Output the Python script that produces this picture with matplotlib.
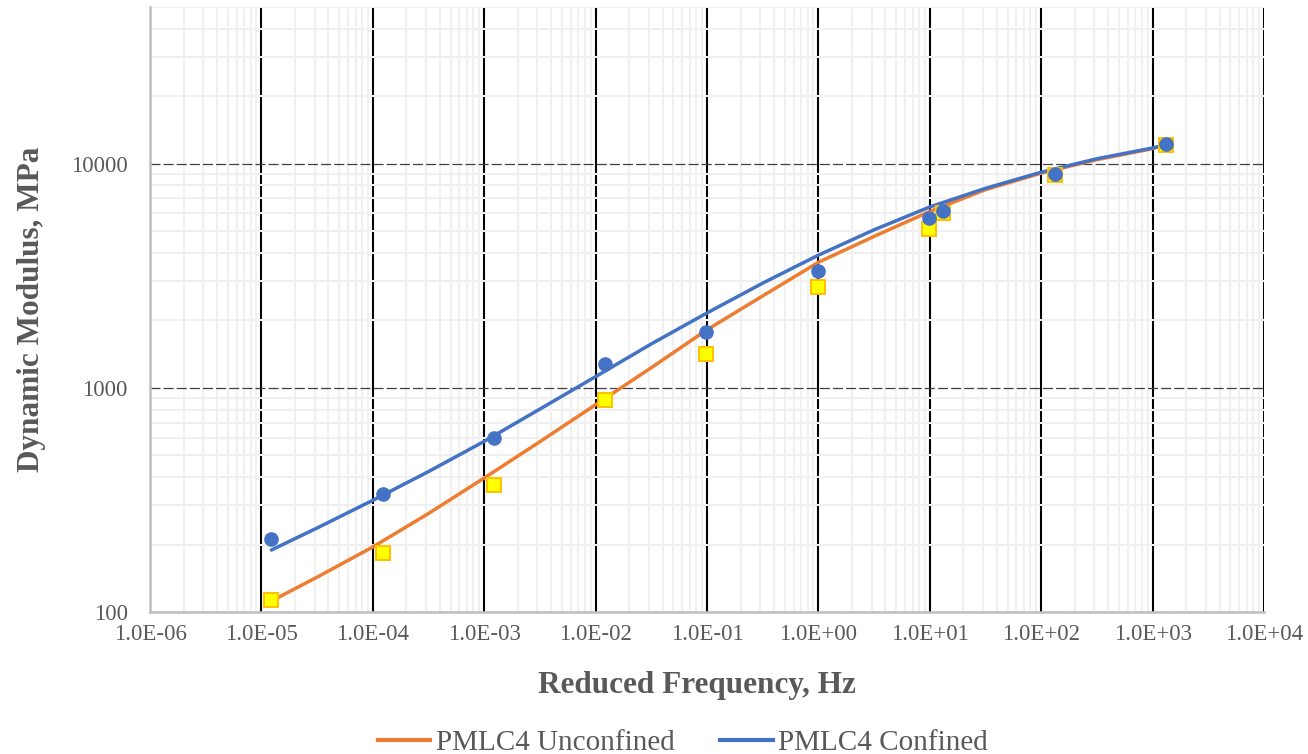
import matplotlib
matplotlib.use("Agg")
import matplotlib.pyplot as plt
from matplotlib.lines import Line2D
from matplotlib.ticker import LogLocator, FixedLocator, NullFormatter

# measured points (reduced frequency, Hz / dynamic modulus, MPa)
freq = [1.22e-5, 1.24e-4, 1.22e-3, 1.22e-2, 0.098, 1.0, 9.8, 13.1, 133, 1318]
e_unconf = [113, 183, 369, 883, 1419, 2825, 5130, 6040, 8930, 12170]
e_conf = [212, 336, 599, 1280, 1779, 3327, 5740, 6170, 8980, 12200]

# fitted master curves, every half decade
fit_freq = [1.23e-5, 3.16e-5, 1e-4, 3.16e-4, 1e-3, 3.16e-3, 1e-2, 3.16e-2,
            1e-1, 3.16e-1, 1.0, 3.16, 10, 31.6, 100, 316, 1000, 1318]
fit_unconf = [112, 143, 195, 275, 396, 575, 841, 1230, 1816, 2570, 3631,
              4738, 6121, 7656, 9078, 10420, 11670, 12160]
fit_conf = [189, 237, 315, 423, 577, 804, 1122, 1570, 2158, 2931, 3908,
            5070, 6412, 7762, 9162, 10520, 11750, 12160]

x_ticks = [10.0 ** p for p in range(-6, 5)]
y_ticks = [100, 1000, 10000]

GRAY_TXT = "#595959"
SERIF = ["Liberation Serif", "DejaVu Serif"]
plt.rcParams["font.family"] = SERIF

fig = plt.figure(figsize=(13.08, 7.54), dpi=100)
ax = fig.add_axes([150 / 1308, 1 - 612 / 754, (1264 - 150) / 1308, (612 - 7) / 754])

ax.set_xscale("log")
ax.set_yscale("log")
ax.set_xlim(1e-6, 1e4)
ax.set_ylim(100, 50000)

ax.set_axisbelow(True)
ax.xaxis.set_major_locator(FixedLocator(x_ticks))
ax.yaxis.set_major_locator(FixedLocator(y_ticks))
ax.xaxis.set_minor_locator(LogLocator(base=10, subs=range(2, 10), numticks=100))
ax.yaxis.set_minor_locator(LogLocator(base=10, subs=range(2, 10), numticks=100))
ax.xaxis.set_minor_formatter(NullFormatter())
ax.yaxis.set_minor_formatter(NullFormatter())
ax.set_xticklabels([f"{v:.1E}" for v in x_ticks])
ax.set_yticklabels([str(v) for v in y_ticks])

ax.grid(which="minor", axis="both", color="#f0f0f0", lw=1.5)
ax.grid(which="major", axis="x", color="black", lw=1.5)
ax.grid(which="major", axis="y", color="#404040", lw=0.9, linestyle=(0, (8, 2.5)))

ax.tick_params(which="both", length=0)
ax.tick_params(axis="x", pad=9, labelsize=16.5, labelcolor=GRAY_TXT)
ax.tick_params(axis="y", pad=16, labelsize=16.5, labelcolor=GRAY_TXT)

for side in ("top", "right"):
    ax.spines[side].set_visible(False)
for side in ("left", "bottom"):
    ax.spines[side].set_color("#bfbfbf")
    ax.spines[side].set_linewidth(1.8)

ax.plot(fit_freq, fit_unconf, color="#ed7d31", lw=2.5, zorder=3,
        solid_capstyle="round")
ax.plot(fit_freq, fit_conf, color="#4472c4", lw=2.5, zorder=4,
        solid_capstyle="round")
ax.plot(freq, e_unconf, linestyle="none", marker="s", ms=10,
        mfc="#ffff00", mec="#ffc000", mew=1.4, zorder=5)
ax.plot(freq, e_conf, linestyle="none", marker="o", ms=9.5,
        mfc="#4472c4", mec="#4472c4", zorder=6)

ax.set_xlabel("Reduced Frequency, Hz", fontsize=22.5, fontweight="bold",
              color=GRAY_TXT)
ax.set_ylabel("Dynamic Modulus, MPa", fontsize=22.5, fontweight="bold",
              color=GRAY_TXT)
ax.xaxis.set_label_coords(0.491, -0.098)
ax.yaxis.set_label_coords(-0.093, 0.5)

handles = [
    Line2D([0], [0], color="#ed7d31", lw=3),
    Line2D([0], [0], color="#4472c4", lw=3),
]
fig.legend(handles, ["PMLC4 Unconfined", "PMLC4 Confined"],
           loc="lower center", bbox_to_anchor=(683 / 1308, -0.038),
           ncol=2, frameon=False, fontsize=21, labelcolor=GRAY_TXT,
           handlelength=1.8, handletextpad=0.2, columnspacing=1.55)

fig.savefig("out.png", dpi=100)
